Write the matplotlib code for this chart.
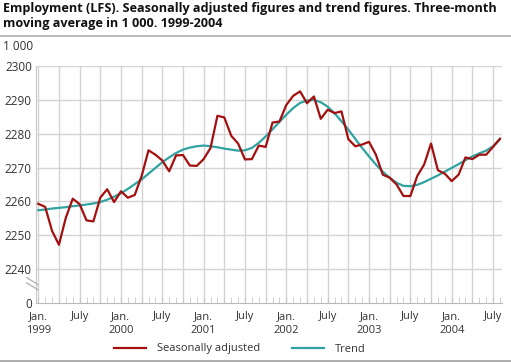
import matplotlib
matplotlib.use("Agg")
import matplotlib.pyplot as plt
from matplotlib.lines import Line2D
import numpy as np

plt.rcParams.update({
    'font.family': ['Open Sans', 'DejaVu Sans'],
    'font.size': 8,
})

# monthly values, Jan 1999 - Aug 2004 (1 000 persons)
seasonal = [
    2259.3, 2258.4, 2251.3, 2247.2, 2255.2, 2260.8, 2259.2, 2254.4, 2254.1, 2261.1, 2263.6, 2259.8,
    2263.0, 2261.1, 2261.9, 2267.5, 2275.1, 2273.8, 2272.1, 2268.9, 2273.6, 2273.7, 2270.6, 2270.5,
    2272.5, 2275.8, 2285.3, 2284.8, 2279.4, 2277.1, 2272.4, 2272.5, 2276.5, 2276.1, 2283.3, 2283.6,
    2288.5, 2291.2, 2292.5, 2289.0, 2291.0, 2284.4, 2287.1, 2286.1, 2286.6, 2278.4, 2276.3, 2276.8,
    2277.6, 2273.8, 2267.9, 2267.0, 2265.0, 2261.6, 2261.6, 2267.5, 2270.9, 2277.1, 2269.2, 2268.2,
    2266.0, 2267.9, 2273.0, 2272.5, 2273.8, 2273.8, 2276.1, 2278.5,
]
trend = [
    2257.4, 2257.6, 2257.9, 2258.1, 2258.3, 2258.6, 2258.8, 2259.1, 2259.4, 2259.8, 2260.5, 2261.4,
    2262.4, 2263.7, 2265.1, 2266.5, 2268.2, 2269.9, 2271.6, 2273.0, 2274.3, 2275.3, 2275.9, 2276.3,
    2276.5, 2276.3, 2276.0, 2275.6, 2275.3, 2275.0, 2275.1, 2275.8, 2277.3, 2279.2, 2281.3, 2283.5,
    2285.6, 2287.6, 2289.1, 2289.8, 2290.0, 2289.3, 2288.0, 2286.0, 2283.7, 2281.2, 2278.5, 2275.8,
    2273.3, 2270.9, 2268.8, 2267.0, 2265.5, 2264.6, 2264.5, 2264.9, 2265.7, 2266.7, 2267.7, 2268.8,
    2269.9, 2271.0, 2272.2, 2273.3, 2274.2, 2275.0, 2276.3, 2278.4,
]
x_labels = ['Jan.\n1999', 'July', 'Jan.\n2000', 'July', 'Jan.\n2001', 'July',
            'Jan.\n2002', 'July', 'Jan.\n2003', 'July', 'Jan.\n2004', 'July']
y_ticks = [2240, 2250, 2260, 2270, 2280, 2290, 2300]

RED = '#a3100f'
TEAL = '#2ea3a1'
GRID = '#d4d4d4'

months = np.arange(len(seasonal))

fig = plt.figure(figsize=(5.11, 3.63), dpi=100)
ax = fig.add_axes([36 / 511, 1 - 303 / 363, 466 / 511, 237 / 363])

ax.plot(months, trend, color=TEAL, lw=1.6, zorder=3)
ax.plot(months, seasonal, color=RED, lw=1.6, zorder=4)

# y axis: broken, "0" at the bottom
ax.set_ylim(2230, 2300)
ax.set_yticks([2230] + y_ticks)
ax.set_yticklabels(['0'] + [str(v) for v in y_ticks])
for v in y_ticks:
    ax.axhline(v, color=GRID, lw=1.0, zorder=1)

# x axis
ax.set_xlim(-0.33, 67.3)
ax.set_xticks(np.arange(0, 67, 6))
ax.set_xticklabels(x_labels, linespacing=1.3)
ax.set_xticks(np.arange(0, 68, 1), minor=True)
for m in range(0, 68, 3):
    ax.axvline(m, color=GRID, lw=1.0, zorder=1)

ax.tick_params(axis='x', which='both', direction='in', length=4, color='#c8c8c8', pad=6,
               labelcolor='#333333')
ax.tick_params(axis='y', length=0, pad=3, labelcolor='#333333', labelsize=8.5)

for s in ['top', 'right']:
    ax.spines[s].set_visible(False)
ax.spines['bottom'].set_color('#b8b8b8')
ax.spines['left'].set_color('#c8c8c8')

# axis break mark
for dy in (0, 0.022):
    ax.add_line(Line2D([-0.02, 0.005], [0.085 + dy, 0.055 + dy], transform=ax.transAxes,
                       color='#b0b0b0', lw=0.9, clip_on=False, zorder=5))

fig.text(3 / 511, 1 - 2 / 363,
         'Employment (LFS). Seasonally adjusted figures and trend figures. Three-month\n'
         'moving average in 1 000. 1999-2004',
         ha='left', va='top', fontsize=9.1, fontweight='bold', linespacing=1.2, color='#111111')
fig.add_artist(Line2D([0, 1], [1 - 36 / 363] * 2, color='#b0b0b0', lw=1.2))
fig.add_artist(Line2D([0, 1], [1 - 361 / 363] * 2, color='#a0a0a0', lw=1.2))
fig.text(3 / 511, 1 - 46 / 363, '1 000', ha='left', va='center', color='#333333', fontsize=8.5)

handles = [Line2D([0], [0], color=RED, lw=1.6), Line2D([0], [0], color=TEAL, lw=1.6)]
fig.legend(handles, ['Seasonally adjusted', 'Trend'], loc='center',
           bbox_to_anchor=(240 / 511, 1 - 349 / 363), ncol=2, frameon=False,
           handlelength=2.9, columnspacing=2.8, handletextpad=1.0, labelcolor='#333333')

fig.savefig('out.png', dpi=100)
